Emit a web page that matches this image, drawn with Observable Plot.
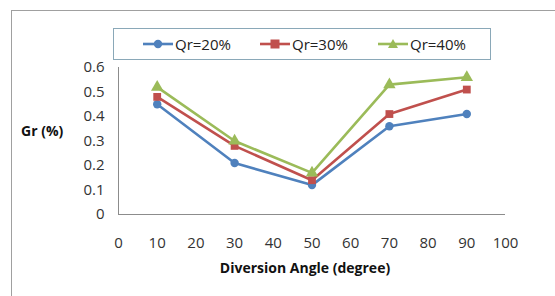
<!DOCTYPE html>
<html><head><meta charset="utf-8">
<script src="https://cdn.jsdelivr.net/npm/d3@7"></script>
<script src="https://cdn.jsdelivr.net/npm/@observablehq/plot@0.6"></script>
<style>
html,body{margin:0;padding:0;background:#fff;overflow:hidden;width:555px;height:296px;font-family:"Open Sans",sans-serif;}
#wrap{position:relative;width:555px;height:296px;}
#frame{position:absolute;left:11px;top:10px;width:700px;height:400px;border:1px solid #a0a0a0;box-sizing:border-box;}
#chart{position:absolute;left:0;top:0;}
#legend{position:absolute;left:113px;top:28px;width:378px;height:32px;border:1px solid #8aa8b8;box-sizing:border-box;background:#fff;}
.item{position:absolute;top:0;height:30px;display:flex;align-items:center;font-size:15px;color:#222;}
.item svg{margin-right:2px;}
.ylab{position:absolute;left:21px;top:121px;font-weight:bold;font-size:14px;color:#111;}
.xlab{position:absolute;left:0;width:610px;text-align:center;top:258px;font-weight:bold;font-size:14px;color:#111;}
</style></head>
<body><div id="wrap"><div id="frame"></div><div id="chart"></div><div id="legend"></div>
<div class="ylab">Gr (%)</div><div class="xlab">Diversion Angle (degree)</div></div>
<script>
const angles = [10, 30, 50, 70, 90];
const qr20 = [0.45, 0.21, 0.12, 0.36, 0.41];
const qr30 = [0.48, 0.28, 0.14, 0.41, 0.51];
const qr40 = [0.52, 0.30, 0.17, 0.53, 0.56];
const seriesNames = ["Qr=20%", "Qr=30%", "Qr=40%"];
const xTicks = [0,10,20,30,40,50,60,70,80,90,100];
const yTicks = [0,0.1,0.2,0.3,0.4,0.5,0.6];
const colors = ["#4F81BD", "#C0504D", "#9BBB59"];
const symbols = ["circle", "square", "triangle"];

const seriesVals = [qr20, qr30, qr40];
const data = [];
seriesVals.forEach((vals, s) => vals.forEach((v, i) => data.push({angle: angles[i], gr: v, series: seriesNames[s]})));

const fmt = d => d === 0 ? "0" : d.toFixed(1);

const chart = Plot.plot({
  width: 555, height: 296,
  marginLeft: 118, marginRight: 50, marginTop: 67, marginBottom: 82,
  style: {fontFamily: "Open Sans", fontSize: "15px", color: "#333", background: "transparent"},
  x: {domain: [0, 100], ticks: xTicks, tickSize: 0, tickPadding: 23, label: null, tickFormat: d => String(d)},
  y: {domain: [0, 0.6], ticks: yTicks, tickSize: 0, tickPadding: 14, label: null, tickFormat: fmt},
  color: {domain: seriesNames, range: colors},
  symbol: {domain: seriesNames, range: symbols},
  marks: [
    Plot.ruleY([0], {stroke: "#8c8c8c", strokeWidth: 1}),
    Plot.ruleX([0], {stroke: "#8c8c8c", strokeWidth: 1}),
    Plot.line(data, {x: "angle", y: "gr", stroke: "series", strokeWidth: 2.6}),
    Plot.dot(data.filter(d => d.series === "Qr=20%"), {x: "angle", y: "gr", fill: "series", symbol: "series", r: 4.2}),
    Plot.dot(data.filter(d => d.series === "Qr=30%"), {x: "angle", y: "gr", fill: "series", symbol: "series", r: 4.4}),
    Plot.dot(data.filter(d => d.series === "Qr=40%"), {x: "angle", y: "gr", fill: "series", symbol: "series", r: 4.6})
  ]
});
document.getElementById("chart").appendChild(chart);

// legend
const leg = document.getElementById("legend");
const lefts = [29, 146, 264];
const shapes = [
  c => `<circle cx="15" cy="8" r="4.2" fill="${c}"/>`,
  c => `<rect x="10.5" y="3.5" width="9" height="9" fill="${c}"/>`,
  c => `<path d="M15,3 L20,12 L10,12 Z" fill="${c}"/>`
];
seriesNames.forEach((name, i) => {
  const el = document.createElement("div");
  el.className = "item";
  el.style.left = lefts[i] + "px";
  el.innerHTML = `<svg width="30" height="16"><line x1="0" y1="8" x2="30" y2="8" stroke="${colors[i]}" stroke-width="2.6"/>${shapes[i](colors[i])}</svg><span>${name}</span>`;
  leg.appendChild(el);
});
</script></body></html>
